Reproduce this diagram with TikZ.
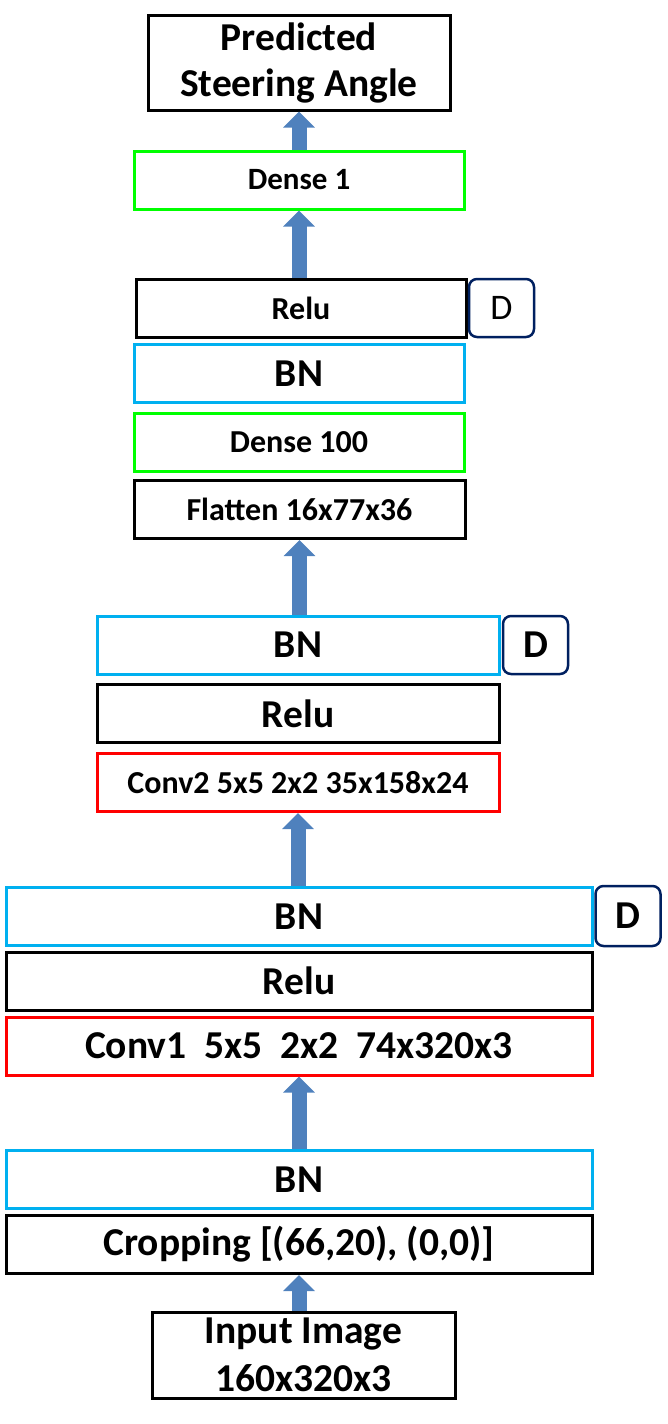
\documentclass[tikz,border=0pt]{standalone}
\usepackage{fontspec}
\setmainfont{Carlito}
\usetikzlibrary{arrows.meta}
\definecolor{bnblue}{HTML}{00B0F0}
\definecolor{densegreen}{HTML}{00FF00}
\definecolor{convred}{HTML}{FF0000}
\definecolor{dropnavy}{HTML}{002060}
\definecolor{flowblue}{HTML}{4F81BD}
\begin{document}
\begin{tikzpicture}[x=1pt,y=-1pt,
  layer/.style={rectangle, draw=black, fill=white, line width=3pt, inner sep=0pt, minimum height=58pt, align=center},
  bnlayer/.style={layer, draw=bnblue},
  denselayer/.style={layer, draw=densegreen},
  convlayer/.style={layer, draw=convred},
  droplayer/.style={layer, draw=dropnavy, line width=2.5pt, rounded corners=8pt, minimum width=65pt},
  bigtext/.style={font=\fontsize{39.5}{46}\selectfont\bfseries},
  smalltext/.style={font=\fontsize{32}{38}\selectfont\bfseries},
  flow/.style={draw=flowblue, line width=15pt, -{Triangle[width=31pt,length=16pt]}}]
\useasboundingbox (0,0) rectangle (667,1424);
% output side
\node [layer, bigtext, minimum width=302pt, minimum height=95pt] (pred) at (299,62.5) {Predicted\\Steering Angle};
\node [denselayer, font=\fontsize{31}{38}\selectfont\bfseries, minimum width=330pt] (dense1) at (299,180) {Dense 1};
\node [layer, smalltext, minimum width=330pt] (relu1) at (301,308) {Relu};
\node [droplayer, font=\fontsize{36}{40}\selectfont] (drop1) at (501.5,308) {D};
\node [bnlayer, bigtext, minimum width=330pt] (bn1) at (299,373.5) {BN};
\node [denselayer, smalltext, minimum width=330pt] (dense100) at (299,442) {Dense 100};
\node [layer, smalltext, minimum width=331pt] (flat) at (299.5,509.5) {Flatten 16x77x36};
% second conv block
\node [bnlayer, bigtext, minimum width=402pt] (bn2) at (298,645) {BN};
\node [droplayer, bigtext] (drop2) at (535.5,645) {D};
\node [layer, bigtext, minimum width=402pt] (relu2) at (298,713.5) {Relu};
\node [convlayer, smalltext, minimum width=402pt] (conv2) at (298,782.5) {Conv2 5x5 2x2 35x158x24};
% first conv block
\node [bnlayer, bigtext, minimum width=586pt] (bn3) at (299,916.5) {BN};
\node [droplayer, bigtext, minimum height=60pt] (drop3) at (628,916) {D};
\node [layer, bigtext, minimum width=586pt] (relu3) at (299,981) {Relu};
\node [convlayer, bigtext, minimum width=586pt] (conv1) at (299,1046) {Conv1~~5x5~~2x2~~74x320x3};
% input side
\node [bnlayer, bigtext, minimum width=586pt] (bn4) at (299,1179.5) {BN};
\node [layer, bigtext, minimum width=586pt] (crop) at (299,1244.5) {Cropping [(66,20), (0,0)]};
\node [layer, font=\fontsize{39.5}{48}\selectfont\bfseries, minimum width=303pt, minimum height=86pt] (input) at (303.5,1355) {Input Image\\160x320x3};
% arrows
\draw [flow] (input.north -| crop.south) -- (crop.south);
\draw [flow] (bn4.north) -- (conv1.south);
\draw [flow] (bn3.north -| conv2.south) -- (conv2.south);
\draw [flow] (bn2.north -| flat.south) -- (flat.south);
\draw [flow] (relu1.north -| dense1.south) -- (dense1.south);
\draw [flow] (dense1.north) -- (pred.south);
\end{tikzpicture}
\end{document}
